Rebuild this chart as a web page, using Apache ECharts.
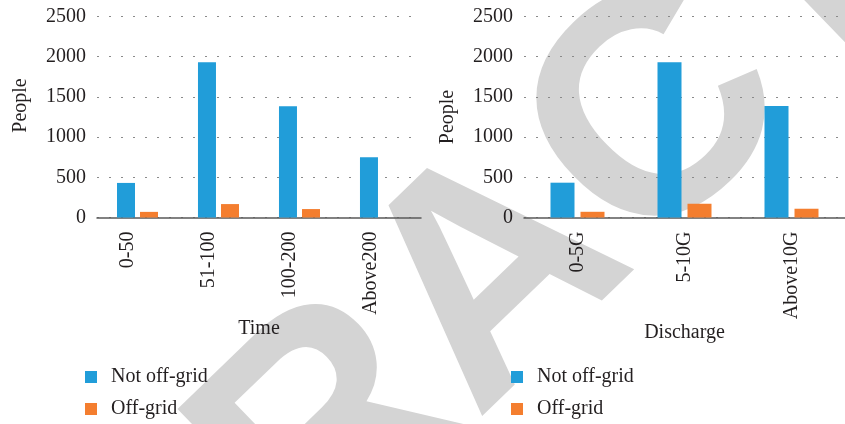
<!DOCTYPE html>
<html>
<head>
<meta charset="utf-8">
<script src="https://cdn.jsdelivr.net/npm/echarts@6/dist/echarts.min.js"></script>
<style>
  html, body { margin: 0; padding: 0; background: #fff; }
  #chart { width: 845px; height: 424px; }
</style>
</head>
<body>
<div id="chart"></div>
<script>
// Panel 1: installation time categories
const timeCategories = ['0-50', '51-100', '100-200', 'Above200'];
const timeNotOffGrid = [430, 1930, 1385, 750];
const timeOffGrid = [70, 167, 105, 0];

// Panel 2: discharge categories
const dischargeCategories = ['0-5G', '5-10G', 'Above10G'];
const dischargeNotOffGrid = [433, 1930, 1388];
const dischargeOffGrid = [71, 171, 109];

// Shared value axis ticks
const peopleMax = 2500;
const peopleStep = 500;

const seriesNames = ['Not off-grid', 'Off-grid'];
const BLUE = '#219dd9';
const ORANGE = '#f47e2f';
const SERIF = '"Liberation Serif", "DejaVu Serif", serif';

const chart = echarts.init(document.getElementById('chart'), null, { renderer: 'canvas' });

function valueAxis(gridIndex, namePadding) {
  return {
    type: 'value', gridIndex, min: 0, max: peopleMax, interval: peopleStep,
    name: 'People', nameLocation: 'middle', nameGap: 66, nameRotate: 90,
    nameTextStyle: { fontFamily: SERIF, fontSize: 20, color: '#231f20', padding: namePadding },
    axisLine: { show: false }, axisTick: { show: false },
    axisLabel: {
      fontFamily: SERIF, fontSize: 20, color: '#231f20', margin: 11,
      formatter: (v) => String(v)
    },
    splitLine: { show: true, lineStyle: { color: '#8a8a8a', width: 1.2, type: [2, 10] } }
  };
}

function categoryAxis(gridIndex, data, name, vAlign) {
  return {
    type: 'category', gridIndex, data, name,
    nameLocation: 'middle', nameGap: 101,
    nameTextStyle: { fontFamily: SERIF, fontSize: 20, color: '#231f20' },
    axisLine: { show: true, lineStyle: { color: '#5a5a5a', width: 1.5 } },
    axisTick: { show: false },
    axisLabel: { rotate: 90, fontFamily: SERIF, fontSize: 20, color: '#231f20', margin: 14, verticalAlign: vAlign }
  };
}

function barSeries(name, axisIndex, data, color, width, gap) {
  return {
    type: 'bar', name, data,
    xAxisIndex: axisIndex, yAxisIndex: axisIndex,
    barWidth: width, barGap: gap,
    itemStyle: { color },
    emphasis: { disabled: true }
  };
}

function legendBox(left) {
  return {
    orient: 'vertical', left, top: 367, height: 80, padding: 0,
    itemWidth: 12, itemHeight: 12, itemGap: 12, icon: 'rect',
    data: seriesNames, selectedMode: false,
    textStyle: { fontFamily: SERIF, fontSize: 20, color: '#231f20', padding: [0, 0, 0, 9] }
  };
}

chart.setOption({
  animation: false,
  backgroundColor: '#ffffff',
  graphic: [{
    type: 'text',
    z: -10,
    silent: true,
    x: 498, y: 280,
    rotation: 44 * Math.PI / 180,
    style: {
      text: 'RETRACTED',
      font: 'bold 315px "Liberation Sans", Arial, sans-serif',
      fill: '#d4d4d4',
      align: 'center',
      verticalAlign: 'middle'
    }
  }],
  grid: [
    { left: 97, top: 16.5, width: 324, height: 201 },
    { left: 524, top: 16.5, width: 323, height: 201 }
  ],
  xAxis: [
    categoryAxis(0, timeCategories, 'Time', 'bottom'),
    categoryAxis(1, dischargeCategories, 'Discharge', 'middle')
  ],
  yAxis: [
    valueAxis(0, [0, 0, 0, 23]),
    valueAxis(1, [0, 0, 0, 0])
  ],
  legend: [legendBox(85), legendBox(511)],
  series: [
    barSeries(seriesNames[0], 0, timeNotOffGrid, BLUE, 18, '28%'),
    barSeries(seriesNames[1], 0, timeOffGrid, ORANGE, 18, '28%'),
    barSeries(seriesNames[0], 1, dischargeNotOffGrid, BLUE, 24, '25%'),
    barSeries(seriesNames[1], 1, dischargeOffGrid, ORANGE, 24, '25%')
  ]
});
</script>
</body>
</html>
